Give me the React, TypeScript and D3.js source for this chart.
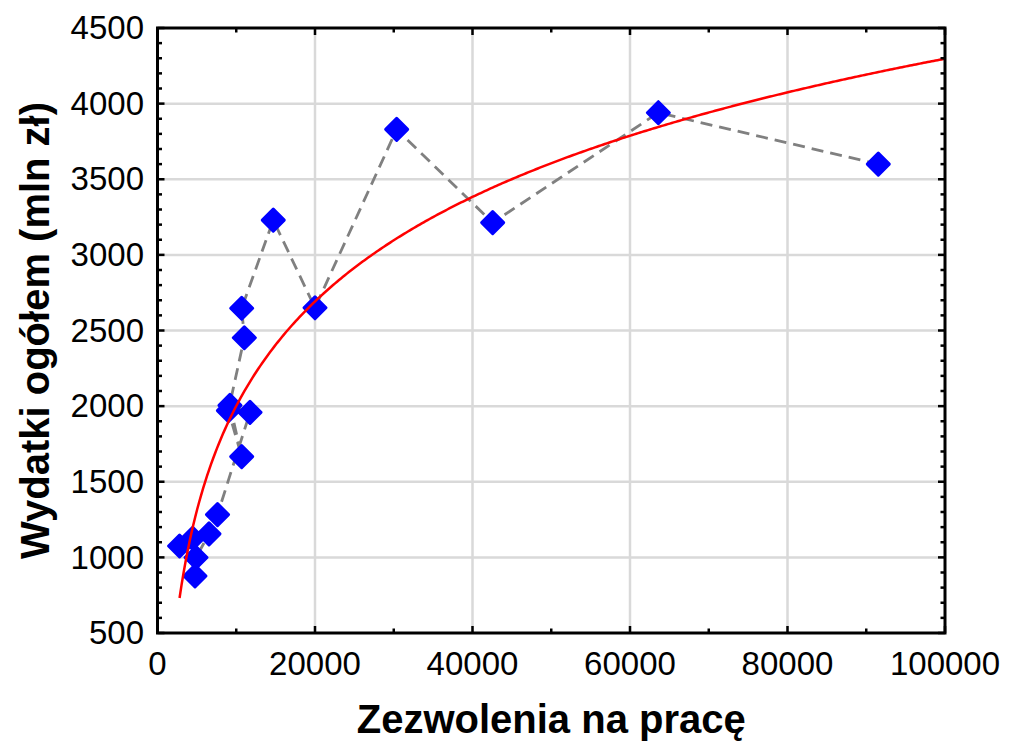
import React from "react";
import * as d3 from "d3";

// Data in connection order (dashed line follows this order)
const permits = [2800, 4470, 4760, 4890, 6540, 7620, 11746, 9200, 10690, 9000, 11025, 10690, 14700, 20000, 30370, 42560, 63600, 91530];
const spending = [1075, 1126, 877, 999, 1155, 1283, 1959, 2005, 1666, 1970, 2452, 2647, 3230, 2650, 3830, 3213, 3940, 3600];

const xTicks = [0, 20000, 40000, 60000, 80000, 100000];
const yTicks = [500, 1000, 1500, 2000, 2500, 3000, 3500, 4000, 4500];

const xTitle = "Zezwolenia na pracę";
const yTitle = "Wydatki ogółem (mln zł)";

const FONT = "'Liberation Sans', Arial, Helvetica, sans-serif";

export default function App() {
  const left = 157.5, right = 945, top = 28, bottom = 633;
  const x = d3.scaleLinear().domain([0, 100000]).range([left, right]);
  const y = d3.scaleLinear().domain([500, 4500]).range([bottom, top]);

  const pts = permits.map((p, i) => ({ p, s: spending[i] }));

  // logarithmic least-squares fit y = a + b ln(x)
  const lx = permits.map(Math.log);
  const mx = d3.mean(lx) as number;
  const my = d3.mean(spending) as number;
  let sxy = 0, sxx = 0;
  lx.forEach((v, i) => { sxy += (v - mx) * (spending[i] - my); sxx += (v - mx) * (v - mx); });
  const b = sxy / sxx;
  const a = my - b * mx;
  const xmin = d3.min(permits) as number;
  const curveXs = d3.range(xmin, 100000, 250).concat([100000]);
  const fitLine = d3.line<number>().x((v) => x(v)).y((v) => y(a + b * Math.log(v)));

  const dashed = d3.line<{ p: number; s: number }>().x((d) => x(d.p)).y((d) => y(d.s));

  const xMinor = x.ticks(10);
  const yMinor = y.ticks(40);
  const r = 11;
  const diamond = `M0,${-r}L${r},0L0,${r}L${-r},0Z`;

  return (
    <svg width={1011} height={744} style={{ position: "absolute", left: 0, top: 0, background: "#fff" }}>
      <rect x={0} y={0} width={1011} height={744} fill="#fff" />
      {/* grid */}
      <g stroke="#d9d9d9" strokeWidth={2.5}>
        {xTicks.slice(1, -1).map((t) => (
          <line key={"gx" + t} x1={x(t)} x2={x(t)} y1={top} y2={bottom} />
        ))}
        {yTicks.slice(1, -1).map((t) => (
          <line key={"gy" + t} x1={left} x2={right} y1={y(t)} y2={y(t)} />
        ))}
      </g>
      {/* dashed connecting line */}
      <path d={dashed(pts) as string} fill="none" stroke="#808080" strokeWidth={2.8} strokeDasharray="12,7" />
      {/* markers */}
      <g fill="#0000ff" stroke="#0000ff" strokeWidth={3} strokeLinejoin="round">
        {pts.map((d, i) => (
          <path key={i} d={diamond} transform={`translate(${x(d.p)},${y(d.s)})`} />
        ))}
      </g>
      {/* fit curve */}
      <path d={fitLine(curveXs) as string} fill="none" stroke="#ff0000" strokeWidth={2.5} />
      {/* ticks */}
      <g stroke="#000" strokeWidth={2.5}>
        {xMinor.map((t) => {
          const len = t % 20000 === 0 ? 7 : 4.5;
          return (
            <g key={"xt" + t}>
              <line x1={x(t)} x2={x(t)} y1={bottom} y2={bottom - len} />
              <line x1={x(t)} x2={x(t)} y1={top} y2={top + len} />
            </g>
          );
        })}
        {yMinor.map((t) => {
          const len = t % 500 === 0 ? 7 : 4.5;
          return (
            <g key={"yt" + t}>
              <line x1={left} x2={left + len} y1={y(t)} y2={y(t)} />
              <line x1={right} x2={right - len} y1={y(t)} y2={y(t)} />
            </g>
          );
        })}
      </g>
      <rect x={left} y={top} width={right - left} height={bottom - top} fill="none" stroke="#000" strokeWidth={3} />
      {/* tick labels */}
      <g fontFamily={FONT} fontSize={33} fill="#000">
        {xTicks.map((t) => (
          <text key={"xl" + t} x={x(t)} y={675} textAnchor="middle">{t}</text>
        ))}
        {yTicks.map((t) => (
          <text key={"yl" + t} x={144} y={y(t)} dy="0.34em" textAnchor="end">{t}</text>
        ))}
      </g>
      <text x={(left + right) / 2} y={733} textAnchor="middle" fontFamily={FONT} fontSize={40} fontWeight="bold">{xTitle}</text>
      <text transform={`translate(49,${(top + bottom) / 2}) rotate(-90)`} textAnchor="middle" fontFamily={FONT} fontSize={40} fontWeight="bold">{yTitle}</text>
    </svg>
  );
}
